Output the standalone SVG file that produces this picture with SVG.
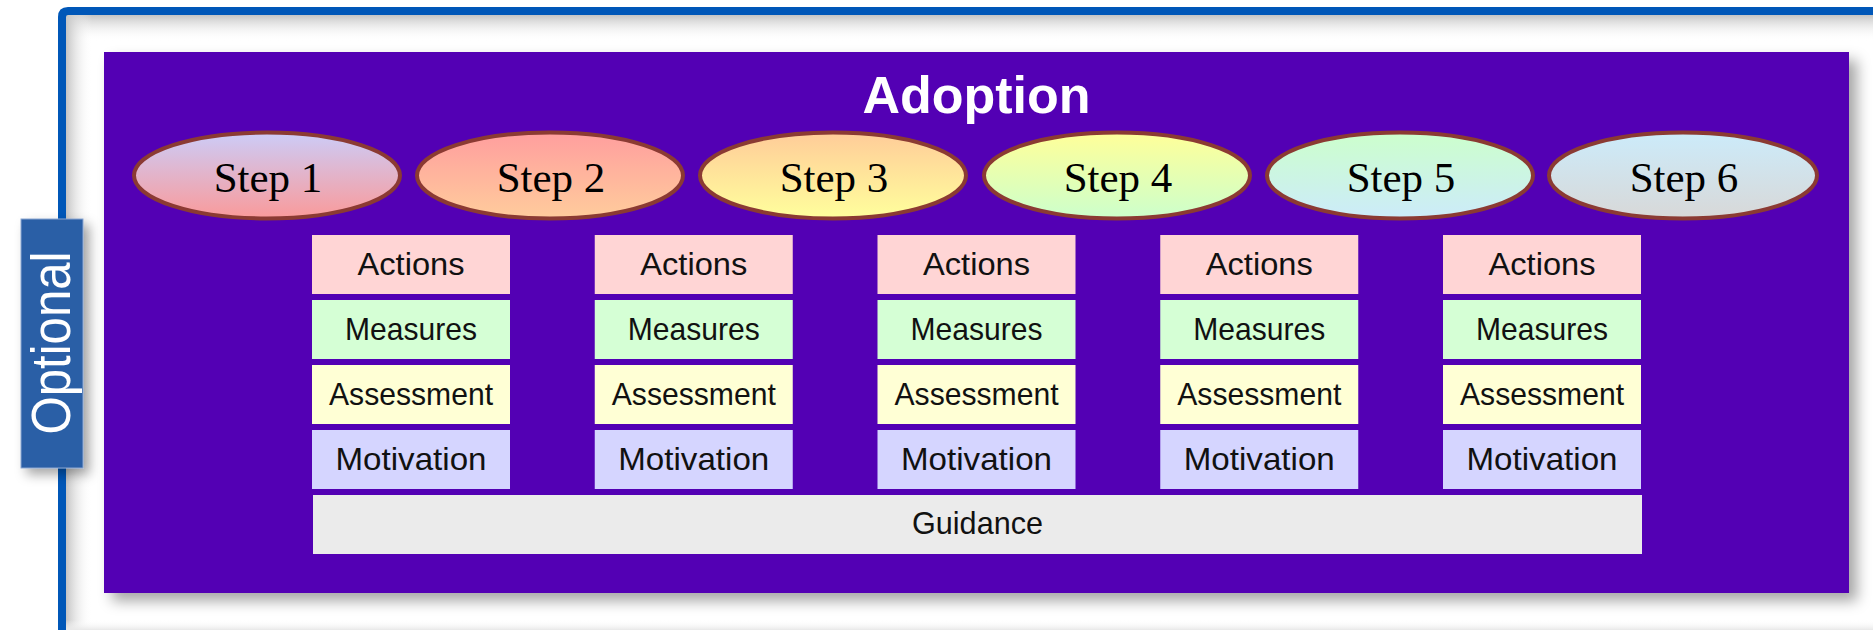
<svg xmlns="http://www.w3.org/2000/svg" width="1873" height="630" viewBox="0 0 1873 630">
<style>
.step{stroke:#8B3A33;stroke-width:4}
.stxt{font-family:"Liberation Serif","Times New Roman",serif;font-size:43px;fill:#000;text-anchor:middle}
.btxt{font-family:"Liberation Sans",Arial,sans-serif;font-size:32px;fill:#111;text-anchor:middle}
.act{fill:#FFD5D5}.mea{fill:#D5FFD5}.ass{fill:#FFFFD5}.mot{fill:#D5D5FF}.gui{fill:#EBEBEB}
</style>
<defs>
<linearGradient id="g1" x1="0" y1="0" x2="0" y2="1"><stop offset="0" stop-color="#CCCCF8"/><stop offset="1" stop-color="#FA9A9A"/></linearGradient>
<linearGradient id="g2" x1="0" y1="0" x2="0" y2="1"><stop offset="0" stop-color="#FF9E9E"/><stop offset="1" stop-color="#FFCC9C"/></linearGradient>
<linearGradient id="g3" x1="0" y1="0" x2="0" y2="1"><stop offset="0" stop-color="#FFCC99"/><stop offset="1" stop-color="#FFFF9C"/></linearGradient>
<linearGradient id="g4" x1="0" y1="0" x2="0" y2="1"><stop offset="0" stop-color="#FFFF99"/><stop offset="1" stop-color="#CCFFCC"/></linearGradient>
<linearGradient id="g5" x1="0" y1="0" x2="0" y2="1"><stop offset="0" stop-color="#CCFFCC"/><stop offset="1" stop-color="#CCEBFA"/></linearGradient>
<linearGradient id="g6" x1="0" y1="0" x2="0" y2="1"><stop offset="0" stop-color="#CCEBFA"/><stop offset="1" stop-color="#D8D8D8"/></linearGradient>
<linearGradient id="shTop" x1="0" y1="0" x2="0" y2="1"><stop offset="0" stop-color="#C4C4C4"/><stop offset="1" stop-color="#FFFFFF" stop-opacity="0"/></linearGradient>
<linearGradient id="shLeft" x1="0" y1="0" x2="1" y2="0"><stop offset="0" stop-color="#C4C4C4"/><stop offset="1" stop-color="#FFFFFF" stop-opacity="0"/></linearGradient>
<linearGradient id="shBot" x1="0" y1="0" x2="0" y2="1"><stop offset="0" stop-color="#FFFFFF" stop-opacity="0"/><stop offset="1" stop-color="#E8E8E8"/></linearGradient>
<filter id="drop" x="-10%" y="-10%" width="125%" height="130%"><feDropShadow dx="8" dy="8" stdDeviation="7" flood-color="#000" flood-opacity="0.35"/></filter>
<filter id="drop2" x="-30%" y="-10%" width="180%" height="130%"><feDropShadow dx="6" dy="6" stdDeviation="6" flood-color="#000" flood-opacity="0.35"/></filter>
</defs>
<rect width="1873" height="630" fill="#FFFFFF"/>
<g id="frame">
<rect x="66" y="15" width="1807" height="26" fill="url(#shTop)"/>
<rect x="66" y="15" width="26" height="615" fill="url(#shLeft)"/>
<rect x="66" y="620" width="1807" height="10" fill="url(#shBot)"/>
<path d="M62,640 V17 Q62,11 68,11 H1880" fill="none" stroke="#0057B8" stroke-width="8"/>
</g>
<g id="optional">
<rect x="21" y="219" width="62" height="249" fill="#2A5EA6" stroke="#8AA6D0" stroke-width="1" filter="url(#drop2)"/>
<text transform="translate(70,343) rotate(-90)" x="0" y="0" text-anchor="middle" font-family="Liberation Sans,Arial,sans-serif" font-size="55" fill="#FFFFFF" textLength="183" lengthAdjust="spacingAndGlyphs">Optional</text>
</g>
<g id="adoption">
<rect x="104" y="52" width="1745" height="541" fill="#5200B4" filter="url(#drop)"/>
<text x="976.5" y="113" text-anchor="middle" font-family="Liberation Sans,Arial,sans-serif" font-size="52" font-weight="bold" fill="#FFFFFF">Adoption</text>
</g>
<g id="steps">
<g id="step1"><ellipse class="step" cx="267" cy="175.5" rx="133" ry="43" fill="url(#g1)"/><text class="stxt" x="268" y="192">Step 1</text></g>
<g id="step2"><ellipse class="step" cx="550" cy="175.5" rx="133" ry="43" fill="url(#g2)"/><text class="stxt" x="551" y="192">Step 2</text></g>
<g id="step3"><ellipse class="step" cx="833" cy="175.5" rx="133" ry="43" fill="url(#g3)"/><text class="stxt" x="834" y="192">Step 3</text></g>
<g id="step4"><ellipse class="step" cx="1117" cy="175.5" rx="133" ry="43" fill="url(#g4)"/><text class="stxt" x="1118" y="192">Step 4</text></g>
<g id="step5"><ellipse class="step" cx="1400" cy="175.5" rx="133" ry="43" fill="url(#g5)"/><text class="stxt" x="1401" y="192">Step 5</text></g>
<g id="step6"><ellipse class="step" cx="1683" cy="175.5" rx="134" ry="43" fill="url(#g6)"/><text class="stxt" x="1684" y="192">Step 6</text></g>
</g>
<g id="col1">
<rect class="act" x="312" y="235" width="198" height="59"/><text class="btxt" x="411" y="275" textLength="107" lengthAdjust="spacingAndGlyphs">Actions</text>
<rect class="mea" x="312" y="300" width="198" height="59"/><text class="btxt" x="411" y="340" textLength="132" lengthAdjust="spacingAndGlyphs">Measures</text>
<rect class="ass" x="312" y="365" width="198" height="59"/><text class="btxt" x="411" y="404.5" textLength="164" lengthAdjust="spacingAndGlyphs">Assessment</text>
<rect class="mot" x="312" y="430" width="198" height="59"/><text class="btxt" x="411" y="470" textLength="151" lengthAdjust="spacingAndGlyphs">Motivation</text>
</g>
<g id="col2">
<rect class="act" x="594.75" y="235" width="198" height="59"/><text class="btxt" x="693.75" y="275" textLength="107" lengthAdjust="spacingAndGlyphs">Actions</text>
<rect class="mea" x="594.75" y="300" width="198" height="59"/><text class="btxt" x="693.75" y="340" textLength="132" lengthAdjust="spacingAndGlyphs">Measures</text>
<rect class="ass" x="594.75" y="365" width="198" height="59"/><text class="btxt" x="693.75" y="404.5" textLength="164" lengthAdjust="spacingAndGlyphs">Assessment</text>
<rect class="mot" x="594.75" y="430" width="198" height="59"/><text class="btxt" x="693.75" y="470" textLength="151" lengthAdjust="spacingAndGlyphs">Motivation</text>
</g>
<g id="col3">
<rect class="act" x="877.5" y="235" width="198" height="59"/><text class="btxt" x="976.5" y="275" textLength="107" lengthAdjust="spacingAndGlyphs">Actions</text>
<rect class="mea" x="877.5" y="300" width="198" height="59"/><text class="btxt" x="976.5" y="340" textLength="132" lengthAdjust="spacingAndGlyphs">Measures</text>
<rect class="ass" x="877.5" y="365" width="198" height="59"/><text class="btxt" x="976.5" y="404.5" textLength="164" lengthAdjust="spacingAndGlyphs">Assessment</text>
<rect class="mot" x="877.5" y="430" width="198" height="59"/><text class="btxt" x="976.5" y="470" textLength="151" lengthAdjust="spacingAndGlyphs">Motivation</text>
</g>
<g id="col4">
<rect class="act" x="1160.25" y="235" width="198" height="59"/><text class="btxt" x="1259.25" y="275" textLength="107" lengthAdjust="spacingAndGlyphs">Actions</text>
<rect class="mea" x="1160.25" y="300" width="198" height="59"/><text class="btxt" x="1259.25" y="340" textLength="132" lengthAdjust="spacingAndGlyphs">Measures</text>
<rect class="ass" x="1160.25" y="365" width="198" height="59"/><text class="btxt" x="1259.25" y="404.5" textLength="164" lengthAdjust="spacingAndGlyphs">Assessment</text>
<rect class="mot" x="1160.25" y="430" width="198" height="59"/><text class="btxt" x="1259.25" y="470" textLength="151" lengthAdjust="spacingAndGlyphs">Motivation</text>
</g>
<g id="col5">
<rect class="act" x="1443" y="235" width="198" height="59"/><text class="btxt" x="1542" y="275" textLength="107" lengthAdjust="spacingAndGlyphs">Actions</text>
<rect class="mea" x="1443" y="300" width="198" height="59"/><text class="btxt" x="1542" y="340" textLength="132" lengthAdjust="spacingAndGlyphs">Measures</text>
<rect class="ass" x="1443" y="365" width="198" height="59"/><text class="btxt" x="1542" y="404.5" textLength="164" lengthAdjust="spacingAndGlyphs">Assessment</text>
<rect class="mot" x="1443" y="430" width="198" height="59"/><text class="btxt" x="1542" y="470" textLength="151" lengthAdjust="spacingAndGlyphs">Motivation</text>
</g>
<g id="guidance">
<rect class="gui" x="313" y="495" width="1329" height="59"/><text class="btxt" x="977.5" y="534" textLength="131" lengthAdjust="spacingAndGlyphs">Guidance</text>
</g>
<g id="connectors"/>
</svg>
